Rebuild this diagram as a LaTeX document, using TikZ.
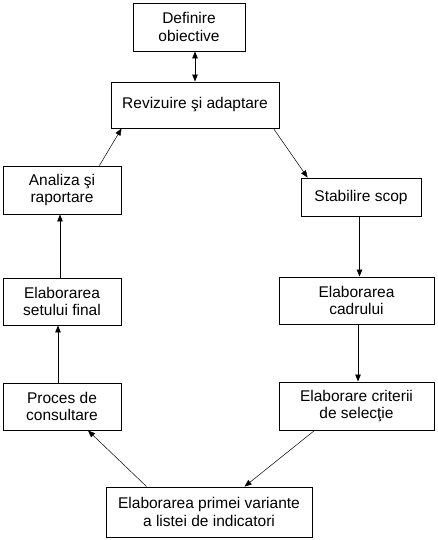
\documentclass[tikz,border=0pt]{standalone}
\usepackage{fontspec}
\setmainfont{Liberation Sans}
\usetikzlibrary{arrows.meta,calc}
\begin{document}
\begin{tikzpicture}[x=1pt,y=-1pt,
  box/.style={draw,line width=0.9pt,minimum width=#1,inner sep=0pt,align=center,font=\fontsize{15.5}{17.5}\selectfont},
  arr/.style={line width=0.8pt,-{Triangle[length=7pt,width=5.5pt]}},
  darr/.style={line width=0.5pt,-{Triangle[length=7pt,width=5.5pt]}}]
\useasboundingbox (0,0) rectangle (438,540);
\node[box=112pt,minimum height=48pt] (def) at (189,27) {Definire\\obiective};
\node[box=168pt,minimum height=46pt] (rev) at (195,105) {Revizuire şi adaptare};
\node[box=118pt,minimum height=48pt] (ana) at (62,190) {Analiza şi\\raportare};
\node[box=120pt,minimum height=38pt] (stab) at (361,197) {Stabilire scop};
\node[box=118pt,minimum height=47pt] (set) at (62,301.5) {Elaborarea\\setului final};
\node[box=155pt,minimum height=47pt] (cad) at (356.5,300.5) {Elaborarea\\cadrului};
\node[box=118pt,minimum height=47pt] (proc) at (62,406.5) {Proces de\\consultare};
\node[box=155pt,minimum height=48pt] (crit) at (356.5,406) {Elaborare criterii\\de selecţie};
\node[box=206pt,minimum height=50pt] (prim) at (209,512) {Elaborarea primei variante\\a listei de indicatori};
\draw[arr,{Triangle[length=7pt,width=5.5pt]}-{Triangle[length=7pt,width=5.5pt]}] (def.south -| rev) ++(0,0) coordinate (d1) -- (d1 |- rev.north);
\draw[darr] ([xshift=-6pt]rev.south east) -- ([xshift=7pt]stab.north west);
\draw[darr] ([xshift=-22pt]ana.north east) -- ([xshift=11pt]rev.south west);
\draw[arr] ([xshift=-2pt]set.north) -- ([xshift=-2pt]ana.south);
\draw[arr] ([xshift=-4pt]proc.north) -- ([xshift=-4pt]set.south);
\draw[arr] ([xshift=4pt]stab.south) -- ([xshift=3pt]cad.north |- stab.south) coordinate (s1) -- (s1 |- cad.north);
\draw[arr] ([xshift=1.5pt]cad.south) -- ([xshift=1.5pt]crit.north);
\draw[darr] ([xshift=36pt]crit.south west) -- ([xshift=139pt]prim.north west);
\draw[darr] ([xshift=41pt]prim.north west) -- ([xshift=26pt]proc.south);
\end{tikzpicture}
\end{document}
